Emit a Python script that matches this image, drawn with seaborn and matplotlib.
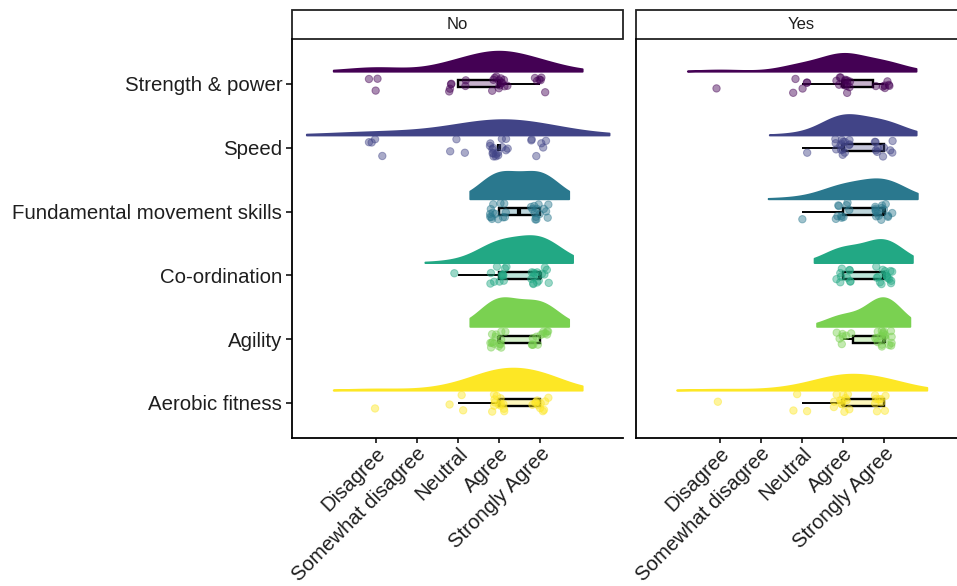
import numpy as np
import pandas as pd
import matplotlib
matplotlib.use("Agg")
import matplotlib.pyplot as plt
from matplotlib.patches import Rectangle
import seaborn as sns

# Survey items (top to bottom) and the response scale
components = ["Strength & power", "Speed", "Fundamental movement skills",
              "Co-ordination", "Agility", "Aerobic fitness"]
response_values = [1, 2, 3, 4, 5]
response_labels = ["Disagree", "Somewhat disagree", "Neutral", "Agree",
                   "Strongly Agree"]
panels = ["No", "Yes"]

# Number of respondents giving each response (columns follow response_values)
counts_no = [
    [3, 0, 6, 13, 6],
    [4, 0, 3, 16, 6],
    [0, 0, 0, 14, 14],
    [0, 0, 1, 12, 15],
    [0, 0, 0, 15, 13],
    [1, 0, 3, 13, 11],
]
counts_yes = [
    [1, 0, 5, 13, 7],
    [0, 0, 1, 15, 10],
    [0, 0, 1, 10, 15],
    [0, 0, 0, 10, 16],
    [0, 0, 0, 7, 19],
    [1, 0, 3, 13, 9],
]

colors = [tuple(c[:3]) for c in plt.get_cmap("viridis")(np.linspace(0, 1, len(components)))]
comp_colors = dict(zip(components, colors))

rows = []
for panel, counts in zip(panels, [counts_no, counts_yes]):
    for pos, (comp, cnt) in enumerate(zip(components, counts)):
        for v in np.repeat(response_values, cnt):
            rows.append((panel, comp, pos, v))
df = pd.DataFrame(rows, columns=["panel", "component", "pos", "response"])


def nrd0_factor(kde):
    """Silverman's rule-of-thumb bandwidth, returned as a gaussian_kde factor."""
    x = np.asarray(kde.dataset).ravel()
    sd = x.std(ddof=1)
    q75, q25 = np.percentile(x, [75, 25])
    lo = min(sd, (q75 - q25) / 1.34)
    if lo == 0:
        lo = sd
    return 0.9 * lo * len(x) ** -0.2 / sd


sns.set_theme(style="ticks")
plt.rcParams["font.family"] = ["Liberation Sans", "DejaVu Sans"]
text_color = "#1e1e1e"

W, H = 957, 586
fig = plt.figure(figsize=(W / 100, H / 100), dpi=100)
ax_w = 331 / W
ax_h = 399 / H
ax_bottom = 1 - 438 / H
axes = [fig.add_axes([292 / W, ax_bottom, ax_w, ax_h]),
        fig.add_axes([636 / W, ax_bottom, ax_w, ax_h])]

rng = np.random.default_rng(11)
np.random.seed(5)

for ax, panel in zip(axes, panels):
    sub = df[df["panel"] == panel].copy()
    sub["violin_pos"] = sub["pos"] - 0.2
    sub["side"] = "dens"
    sub["resp_jit"] = sub["response"] + rng.uniform(-0.22, 0.22, len(sub))

    # Half violins (rain clouds), nudged above each item
    n0 = len(ax.collections)
    sns.violinplot(data=sub, x="response", y="violin_pos", hue="side",
                   hue_order=["dens", "_"], palette={"dens": "k", "_": "k"},
                   split=True, dodge=True, native_scale=True, orient="y",
                   inner=None, width=0.9, bw_method=nrd0_factor, bw_adjust=2,
                   cut=1.5, density_norm="area", common_norm=True,
                   saturation=1, linewidth=1.3, legend=False, ax=ax)
    for coll, c in zip(ax.collections[n0:], colors):
        coll.set_facecolor(c)
        coll.set_edgecolor(c)

    # Jittered raw responses
    n1 = len(ax.collections)
    sns.stripplot(data=sub, x="resp_jit", y="pos", hue="component",
                  hue_order=components, palette=comp_colors, native_scale=True,
                  orient="y", jitter=0.14, size=5.3, alpha=0.45, linewidth=0.7,
                  dodge=False, legend=False, ax=ax)
    for coll in ax.collections[n1:]:
        coll.set_edgecolor(coll.get_facecolor())

    # Narrow boxplots
    p0 = len(ax.patches)
    sns.boxplot(data=sub, x="response", y="pos", hue="component",
                hue_order=components, palette=comp_colors, native_scale=True,
                orient="y", width=0.11, dodge=False, saturation=1,
                showfliers=False, showcaps=False, linecolor="black",
                linewidth=1.7, whiskerprops={"linewidth": 1.4},
                medianprops={"linewidth": 3.0},
                legend=False, ax=ax)
    for patch, c in zip(ax.patches[p0:], colors):
        patch.set_facecolor((*c, 0.3))
        patch.set_edgecolor("black")
        patch.set_linewidth(1.7)

    ax.set_xlim(-1.04, 7.03)
    ax.set_ylim(5.55, -0.705)
    ax.set_xlabel("")
    ax.set_ylabel("")
    ax.set_xticks(response_values)
    ax.set_xticklabels(response_labels, rotation=45, ha="right", va="top",
                       rotation_mode="anchor", fontsize=14.7, color=text_color)
    ax.set_yticks(range(len(components)))
    if panel == "No":
        ax.set_yticklabels(components, fontsize=14.7, color=text_color)
        ax.tick_params(axis="y", length=4, width=1.1, color="black", pad=3)
    else:
        ax.set_yticklabels([])
        ax.tick_params(axis="y", left=False, labelleft=False)
    ax.tick_params(axis="x", length=3.5, width=1.1, color="black", pad=0.5)
    for side in ["top", "right"]:
        ax.spines[side].set_visible(False)
    for side in ["left", "bottom"]:
        ax.spines[side].set_linewidth(1.3)
        ax.spines[side].set_color("black")
    ax.set_facecolor("white")

    # Facet strip
    strip_h = 29 / 399
    ax.add_patch(Rectangle((0, 1), 1, strip_h, transform=ax.transAxes,
                           clip_on=False, facecolor="white", edgecolor="#222222",
                           linewidth=1.3))
    ax.text(0.5, 1 + strip_h / 2, panel, transform=ax.transAxes, ha="center",
            va="center", fontsize=12, color=text_color)

fig.savefig("out.png", dpi=100, facecolor="white")
